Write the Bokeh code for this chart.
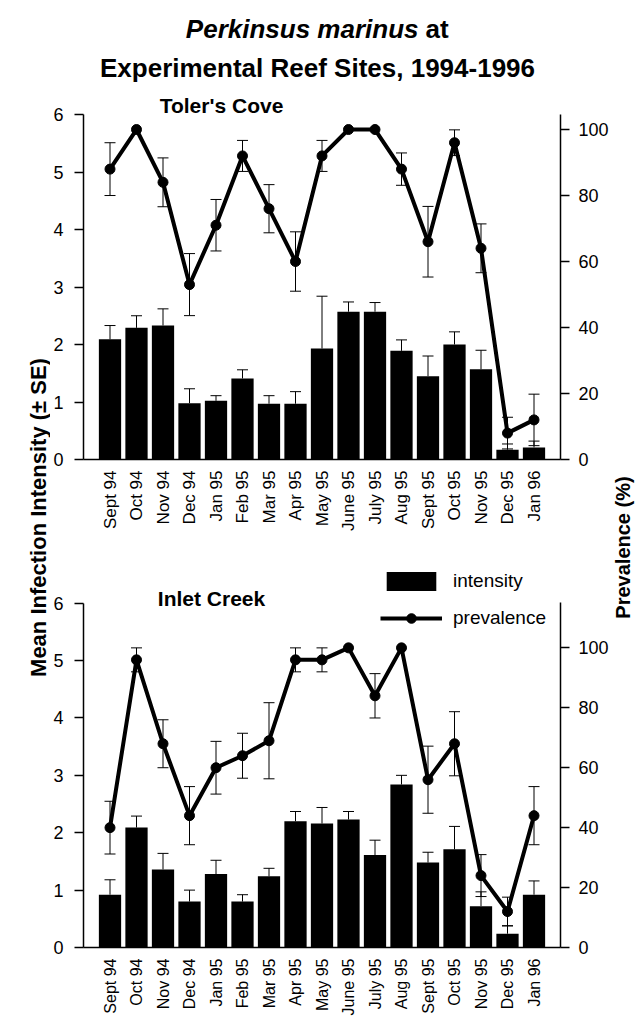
import math
from bokeh.plotting import figure
from bokeh.models import (Range1d, LinearAxis, FixedTicker, ColumnDataSource, Whisker,
                          TeeHead, Label, Legend, LegendItem)
from bokeh.layouts import row, column
from bokeh.embed import file_html
from bokeh.resources import INLINE

# ---------------- data ----------------
months = ["Sept 94", "Oct 94", "Nov 94", "Dec 94", "Jan 95", "Feb 95", "Mar 95", "Apr 95",
          "May 95", "June 95", "July 95", "Aug 95", "Sept 95", "Oct 95", "Nov 95", "Dec 95", "Jan 96"]

# Toler's Cove
tc_intensity = [2.09, 2.29, 2.33, 0.98, 1.02, 1.41, 0.97, 0.97, 1.93, 2.57, 2.57, 1.89, 1.45, 2.00, 1.57, 0.17, 0.21]
tc_intensity_se = [0.24, 0.21, 0.29, 0.25, 0.09, 0.15, 0.14, 0.21, 0.91, 0.17, 0.16, 0.19, 0.35, 0.22, 0.33, 0.10, 0.11]
tc_prevalence = [88, 100, 84, 53, 71, 92, 76, 60, 92, 100, 100, 88, 66, 96, 64, 8, 12]
tc_prevalence_se = [8.0, 0, 7.4, 9.4, 7.8, 4.7, 7.3, 9.0, 4.7, 0, 0, 4.9, 10.7, 3.9, 7.4, 4.8, 7.8]

# Inlet Creek
ic_intensity = [0.92, 2.09, 1.36, 0.80, 1.28, 0.80, 1.24, 2.20, 2.16, 2.23, 1.61, 2.84, 1.48, 1.71, 0.72, 0.24, 0.92]
ic_intensity_se = [0.26, 0.20, 0.28, 0.20, 0.24, 0.12, 0.14, 0.17, 0.28, 0.14, 0.26, 0.16, 0.18, 0.40, 0.25, 0.14, 0.24]
ic_prevalence = [40, 96, 68, 44, 60, 64, 69, 96, 96, 100, 84, 100, 56, 68, 24, 12, 44]
ic_prevalence_se = [8.8, 4.0, 8.0, 9.7, 8.8, 7.5, 12.7, 4.0, 4.0, 0, 7.4, 0, 11.2, 10.7, 7.0, 4.8, 9.7]

intensity_ticks = [0, 1, 2, 3, 4, 5, 6]
prevalence_ticks = [0, 20, 40, 60, 80, 100]

SANS = "Liberation Sans"
BLACK = "#000000"


def make_panel(height, border_bottom, y_end, prev_end, prev_axis_top,
               inten, inten_se, prev, prev_se, xfont, xstandoff):
    xs = list(range(1, len(months) + 1))
    p = figure(width=561, height=height, x_range=Range1d(0, len(months) + 1),
               y_range=Range1d(0, y_end),
               output_backend="svg", toolbar_location=None,
               min_border_left=32, min_border_right=48,
               min_border_top=0, min_border_bottom=border_bottom)
    p.extra_y_ranges = {"prev": Range1d(0, prev_end)}
    p.xgrid.visible = False
    p.ygrid.visible = False
    p.outline_line_color = None
    p.background_fill_color = "white"
    p.border_fill_color = "white"

    # bars
    bsrc = ColumnDataSource(dict(x=xs, top=inten,
                                 upper=[v + e for v, e in zip(inten, inten_se)]))
    bars = p.vbar(x="x", top="top", width=0.84, source=bsrc, fill_color=BLACK, line_color=None)
    p.add_layout(Whisker(base="x", lower="top", upper="upper", source=bsrc,
                         line_color=BLACK, line_width=1,
                         upper_head=TeeHead(size=11, line_color=BLACK, line_width=1),
                         lower_head=None))

    # prevalence error bars (only where an SE exists)
    keep = [i for i, e in enumerate(prev_se) if e > 0]
    psrc = ColumnDataSource(dict(x=[xs[i] for i in keep],
                                 lower=[prev[i] - prev_se[i] for i in keep],
                                 upper=[prev[i] + prev_se[i] for i in keep]))
    p.add_layout(Whisker(base="x", lower="lower", upper="upper", source=psrc,
                         y_range_name="prev", line_color=BLACK, line_width=1,
                         upper_head=TeeHead(size=11, line_color=BLACK, line_width=1),
                         lower_head=TeeHead(size=11, line_color=BLACK, line_width=1)))

    lsrc = ColumnDataSource(dict(x=xs, y=prev))
    line = p.line("x", "y", source=lsrc, y_range_name="prev", line_color=BLACK, line_width=4)
    dots = p.scatter("x", "y", source=lsrc, y_range_name="prev", size=10,
                     fill_color=BLACK, line_color=BLACK)

    # axes
    xa = p.xaxis[0]
    xa.ticker = FixedTicker(ticks=xs)
    xa.major_label_overrides = {x: m for x, m in zip(xs, months)}
    xa.major_label_orientation = math.pi / 2
    xa.major_tick_out = 0
    xa.major_tick_in = 0
    xa.minor_tick_out = 0
    xa.minor_tick_in = 0
    xa.axis_line_width = 1.5
    xa.axis_line_color = BLACK
    xa.major_label_text_font = SANS
    xa.major_label_text_font_size = xfont
    xa.major_label_text_color = BLACK
    xa.major_label_standoff = xstandoff

    ya = p.yaxis[0]
    ya.ticker = FixedTicker(ticks=intensity_ticks)
    ya.bounds = (0, 6)
    ya.major_label_standoff = 11
    ra = LinearAxis(y_range_name="prev", ticker=FixedTicker(ticks=prevalence_ticks),
                    bounds=(0, prev_axis_top))
    ra.major_label_standoff = 9
    p.add_layout(ra, "right")
    for a in (ya, ra):
        a.major_tick_out = 9
        a.major_tick_in = 0
        a.minor_tick_out = 0
        a.minor_tick_in = 0
        a.axis_line_width = 1.5
        a.axis_line_color = BLACK
        a.major_tick_line_width = 1.5
        a.major_tick_line_color = BLACK
        a.major_label_text_font = SANS
        a.major_label_text_font_size = "18px"
        a.major_label_text_color = BLACK
    return p, bars, line, dots


def label(fig, x, y, text, size, style="bold", align="center", angle=0.0):
    fig.add_layout(Label(x=x, y=y, x_units="screen", y_units="screen", text=text, angle=angle,
                         text_font=SANS, text_font_style=style, text_font_size=size,
                         text_align=align, text_baseline="middle", text_color=BLACK))


# -------- top panel: Toler's Cove (frame spans page y 0..459) --------
top, _, _, _ = make_panel(538, 79, 7.983, 139.1, 104.5,
                          tc_intensity, tc_intensity_se, tc_prevalence, tc_prevalence_se,
                          "17px", 11)
label(top, 335, 431, "Perkinsus marinus", "26px", style="bold italic", align="right")
label(top, 342, 431, "at", "26px", align="left")
label(top, 234, 392, "Experimental Reef Sites, 1994-1996", "26px")
label(top, 138, 354, "Toler's Cove", "21px")

# -------- bottom panel: Inlet Creek (frame spans page y 538..949) --------
bot, bars_r, line_r, dots_r = make_panel(480, 69, 7.127, 136.5, 115,
                                         ic_intensity, ic_intensity_se, ic_prevalence,
                                         ic_prevalence_se, "16px", 11)
label(bot, 128, 349, "Inlet Creek", "21px")
legend = Legend(items=[LegendItem(label="intensity", renderers=[bars_r]),
                       LegendItem(label="prevalence", renderers=[line_r, dots_r])],
                location=(297, 317), orientation="vertical",
                glyph_width=62, glyph_height=24, label_height=20, label_standoff=11,
                spacing=13, padding=0, margin=0,
                border_line_color=None, background_fill_alpha=0,
                label_text_font=SANS, label_text_font_size="19px", label_text_color=BLACK)
bot.add_layout(legend)


# -------- side strips with the shared axis titles --------
def strip(width):
    s = figure(width=width, height=1018, x_range=Range1d(0, 1), y_range=Range1d(0, 1),
               x_axis_type=None, y_axis_type=None, output_backend="svg", toolbar_location=None,
               min_border=0, min_border_left=0, min_border_right=0,
               min_border_top=0, min_border_bottom=0)
    s.outline_line_color = None
    s.xgrid.visible = False
    s.ygrid.visible = False
    return s


left = strip(50)
label(left, 37.5, 501, "Mean Infection Intensity (\u00b1 SE)", "22px", angle=math.pi / 2)
right = strip(26)
label(right, 11.5, 471, "Prevalence (%)", "20px", angle=math.pi / 2)

layout = row(left, column(top, bot), right)
open("out.html", "w").write(file_html(layout, INLINE))
